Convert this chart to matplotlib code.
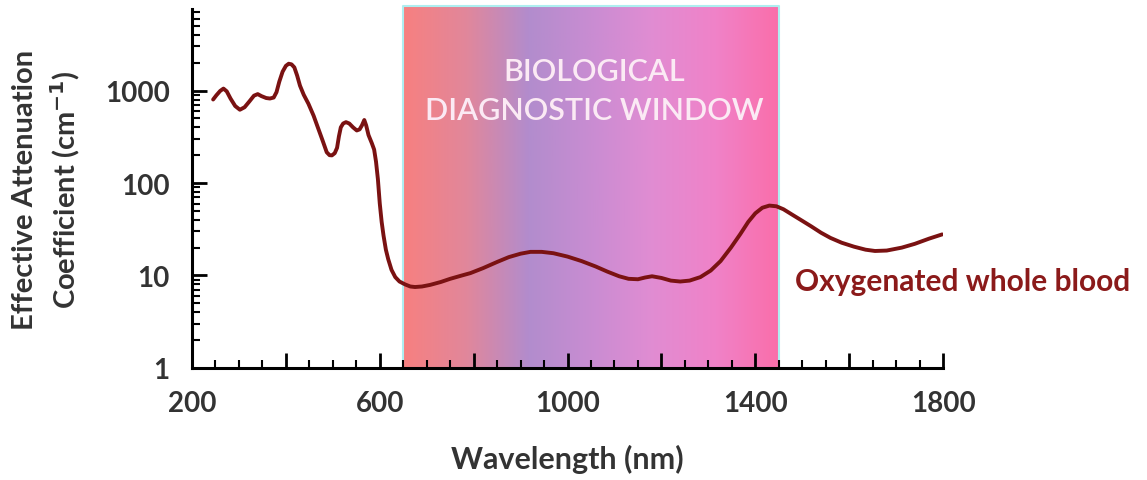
import numpy as np
import matplotlib.pyplot as plt
from matplotlib.colors import LinearSegmentedColormap
from matplotlib.ticker import MultipleLocator, LogLocator, NullFormatter, FixedLocator, FixedFormatter

# wavelength (nm) and attenuation (cm^-1)
wavelength = [245, 252, 260, 267, 274, 282, 292, 302, 312, 322, 332, 340, 348, 358, 366, 374,
              380, 386, 393, 400, 406, 412, 418, 424, 430, 438, 448, 459, 468, 478, 487, 493,
              498, 504, 509, 513, 517, 522, 528, 535, 543, 551, 557, 562, 567, 571, 576, 583,
              588, 592, 596, 600, 604, 608, 613, 618, 625, 633, 642, 654, 665, 675, 690, 707,
              730, 750, 775, 793, 820, 850, 875, 900, 921, 945, 970, 1000, 1030, 1060, 1085,
              1110, 1130, 1150, 1165, 1180, 1200, 1220, 1240, 1260, 1283, 1305, 1326, 1348,
              1368, 1385, 1400, 1415, 1430, 1445, 1460, 1480, 1500, 1519, 1540, 1560, 1584,
              1610, 1635, 1655, 1680, 1712, 1740, 1770, 1798]
attenuation = [800, 890, 990, 1050, 980, 820, 680, 620, 660, 760, 880, 915, 870, 830, 820, 840,
               960, 1250, 1600, 1850, 1950, 1920, 1780, 1450, 1130, 900, 720, 535, 400, 290, 215, 200,
               199, 210, 240, 320, 400, 440, 455, 440, 400, 370, 380, 420, 480, 420, 330, 270,
               230, 170, 110, 60, 38, 27, 19, 15, 11.5, 9.6, 8.6, 8.0, 7.6, 7.5, 7.6, 7.9,
               8.5, 9.2, 10.0, 10.6, 12.0, 14.0, 15.8, 17.2, 18.0, 18.0, 17.4, 16.0, 14.3, 12.5, 11.0,
               9.8, 9.2, 9.1, 9.5, 9.8, 9.4, 8.8, 8.6, 8.8, 9.6, 11.3, 14.3, 20,
               28, 38, 47, 54, 57, 56, 52, 45, 39, 34, 29, 25.5, 22.6,
               20.5, 19.0, 18.4, 18.6, 20.0, 22.0, 25.0, 27.8]

window = (650, 1450)
grad_colors = ["#f78080", "#e1879b", "#b28ccd", "#c98cd2", "#e18cd2", "#f082c8", "#fa6eaa"]

ytick_vals = [1, 10, 100, 1000]
ytick_labels = ["1", "10", "100", "1000"]
xtick_vals = [200, 600, 1000, 1400, 1800]

plt.rcParams['font.family'] = ['Lato', 'DejaVu Sans']
txt = "#333333"
red = "#7a1212"

fig = plt.figure(figsize=(11.47, 4.81), dpi=100)
ax = fig.add_axes([0.1674, 0.233, 0.6548, 0.746])
ax.set_yscale('log')
ax.set_xlim(200, 1800)
ax.set_ylim(1, 7600)

# gradient window
cmap = LinearSegmentedColormap.from_list('win', grad_colors)
grad = np.linspace(0, 1, 256).reshape(1, -1)
ax.imshow(grad, cmap=cmap, aspect='auto', extent=(window[0], window[1], 1, 8200),
          interpolation='bilinear', zorder=0, clip_on=False)
ax.plot([window[0], window[0], window[1], window[1]], [1, 8200, 8200, 1],
        color="#aeeef0", lw=1.5, zorder=1, clip_on=False)

ax.plot(wavelength, attenuation, color=red, lw=2.8, zorder=3,
        solid_capstyle='round', solid_joinstyle='round')

ax.text(sum(window) / 2 + 7, 1000, "BIOLOGICAL\nDIAGNOSTIC WINDOW", ha='center', va='center',
        color="#fbeaf4", fontsize=22, fontweight='semibold', linespacing=1.45)
ax.text(1485, 8.7, "Oxygenated whole blood", ha='left', va='center', color="#8b1a1a",
        fontsize=21.5, fontweight='bold', clip_on=False)

for s in ['top', 'right']:
    ax.spines[s].set_visible(False)
for s in ['left', 'bottom']:
    ax.spines[s].set_linewidth(2.2)
    ax.spines[s].set_zorder(4)

labels = [str(v) if v in xtick_vals else "" for v in range(200, 1801, 200)]
ax.xaxis.set_major_locator(FixedLocator(list(range(200, 1801, 200))))
ax.xaxis.set_major_formatter(FixedFormatter(labels))
ax.xaxis.set_minor_locator(MultipleLocator(50))
ax.yaxis.set_major_locator(FixedLocator(ytick_vals))
ax.yaxis.set_major_formatter(FixedFormatter(ytick_labels))
ax.yaxis.set_minor_locator(LogLocator(base=10, subs=np.arange(2, 10)))
ax.yaxis.set_minor_formatter(NullFormatter())

ax.tick_params(which='major', direction='in', length=11, width=2, colors='black',
               labelcolor=txt, labelsize=20, pad=16)
ax.tick_params(which='minor', direction='in', length=6, width=1.5, colors='black')
for lab in ax.get_xticklabels() + ax.get_yticklabels():
    lab.set_fontweight('bold')

ax.set_xlabel("Wavelength (nm)", fontsize=22, fontweight='bold', color=txt, labelpad=20)
ax.set_ylabel("Effective Attenuation\nCoefficient (cm$^{\\mathbf{-1}}$)", fontsize=21,
              fontweight='bold', color=txt, linespacing=1.35)
ax.yaxis.set_label_coords(-0.147, 0.5)

fig.savefig("out.png", dpi=100)
